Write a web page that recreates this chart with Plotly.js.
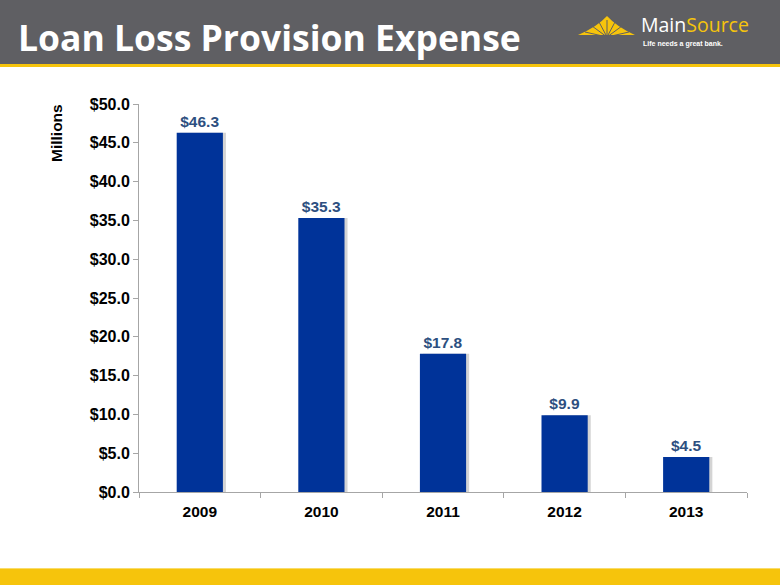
<!DOCTYPE html>
<html><head><meta charset="utf-8">
<script src="https://cdn.plot.ly/plotly-3.0.1.min.js"></script>
<style>html,body{margin:0;padding:0;background:#fff;}#chart{width:780px;height:585px;}</style>
</head><body><div id="chart"></div>
<script>
var years = ['2009','2010','2011','2012','2013'];
var provision = [46.3, 35.3, 17.8, 9.9, 4.5];
var labels = ['$46.3','$35.3','$17.8','$9.9','$4.5'];

var L=139, R=33, T=104, B=93, W=780, H=585;
var PW=W-L-R, PH=H-T-B;
function px(x){return (x-L)/PW;}
function py(y){return (H-B-y)/PH;}

var gray='#5f5f63', gold='#f6c40c';
var shapes=[
 {type:'rect',xref:'paper',yref:'paper',x0:px(0),x1:px(W),y0:py(64),y1:py(0),fillcolor:gray,line:{width:0},layer:'below'},
 {type:'rect',xref:'paper',yref:'paper',x0:px(0),x1:px(W),y0:py(67),y1:py(64),fillcolor:gold,line:{width:0},layer:'below'},
 {type:'rect',xref:'paper',yref:'paper',x0:px(0),x1:px(W),y0:py(585),y1:py(568),fillcolor:gold,line:{width:0},layer:'below'},
 {type:'line',xref:'paper',yref:'paper',x0:px(0),x1:px(W),y0:py(568.5),y1:py(568.5),line:{color:'#f9dc6a',width:1}}
];
// sun logo
var sun='M'+px(578)+','+py(35)+' Q'+px(597)+','+py(27)+' '+px(607)+','+py(16)+' Q'+px(617)+','+py(27)+' '+px(635)+','+py(35)+' Z';
shapes.push({type:'path',xref:'paper',yref:'paper',path:sun,fillcolor:gold,line:{width:0}});
var rays=[[-22,2],[-15,-4],[-8,-8],[0,-10],[8,-8],[15,-4],[22,2]];
rays.forEach(function(r){
  shapes.push({type:'line',xref:'paper',yref:'paper',x0:px(607),y0:py(37),x1:px(607+r[0]),y1:py(30+r[1]),line:{color:gray,width:1}});
});

var annotations=[
 {xref:'paper',yref:'paper',x:px(16),y:py(37),xanchor:'left',yanchor:'middle',showarrow:false,
  text:'<b>Loan Loss Provision Expense</b>',font:{family:'Open Sans, sans-serif',size:35.5,color:'#ffffff'}},
 {xref:'paper',yref:'paper',x:px(639),y:py(24),xanchor:'left',yanchor:'middle',showarrow:false,
  text:'<span style="color:#ffffff">Main</span><span style="color:'+gold+'">Source</span>',font:{family:'Open Sans, sans-serif',size:19.5}},
 {xref:'paper',yref:'paper',x:px(641),y:py(44),xanchor:'left',yanchor:'middle',showarrow:false,
  text:'<b>Life needs a great bank.</b>',font:{family:'Liberation Sans Narrow, Arial, sans-serif',size:7,color:'#ffffff'}},
 {xref:'paper',yref:'paper',x:px(57),y:py(133),xanchor:'center',yanchor:'middle',showarrow:false,textangle:-90,
  text:'<b>Millions</b>',font:{family:'Liberation Sans, Arial, sans-serif',size:15.5,color:'#000'}}
];

var shadow={type:'bar',x:years,y:provision,marker:{color:'#d4d4d4',line:{width:0}},width:0.38,offset:-0.19+0.025,hoverinfo:'none'};
var trace={type:'bar',x:years,y:provision,text:labels,textposition:'outside',cliponaxis:false,
  textfont:{family:'Liberation Sans, Arial, sans-serif',size:15.5,color:'#2d4f80',weight:'bold'},
  marker:{color:'#003399',line:{width:0}},width:0.38,offset:-0.19,hoverinfo:'none'};

var layout={width:W,height:H,margin:{l:L,r:R,t:T,b:B,pad:0},paper_bgcolor:'#fff',plot_bgcolor:'#fff',
 showlegend:false,shapes:shapes,annotations:annotations,barmode:'overlay',
 font:{family:'Liberation Sans, Arial, sans-serif'},
 xaxis:{type:'category',showline:true,linecolor:'#a6a6a6',linewidth:1,ticks:'outside',tickson:'boundaries',ticklen:5,tickcolor:'#a6a6a6',
   ticklabelstandoff:5,tickfont:{size:15.5,color:'#000',weight:'bold'},showgrid:false,zeroline:false,fixedrange:true},
 yaxis:{range:[0,50],dtick:5,tickprefix:'$',tickformat:'.1f',showline:true,linecolor:'#a6a6a6',linewidth:1,ticks:'outside',ticklen:5,tickcolor:'#a6a6a6',
   tickfont:{size:16,color:'#000',weight:'bold'},showgrid:false,zeroline:false,fixedrange:true}
};
Plotly.newPlot('chart',[shadow,trace],layout,{displayModeBar:false,staticPlot:true});
</script></body></html>
